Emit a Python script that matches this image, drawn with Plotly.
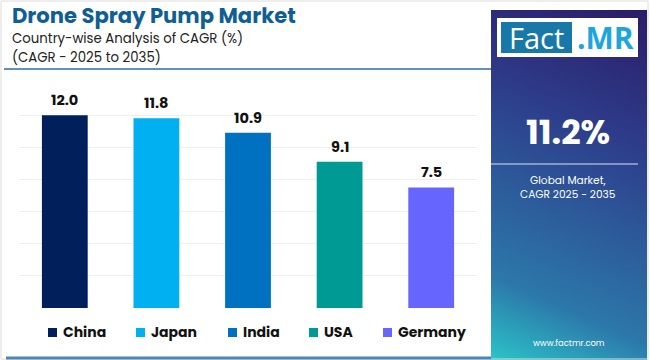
import base64
import plotly.graph_objects as go

# ---------------- data ----------------
countries = ["China", "Japan", "India", "USA", "Germany"]
cagr = [12.0, 11.8, 10.9, 9.1, 7.5]
colors = ["#001f5b", "#00b0f0", "#0070c0", "#009a94", "#6666ff"]
global_cagr = "11.2%"
title = "Drone Spray Pump Market"
subtitle1 = "Country-wise Analysis of CAGR (%)"
subtitle2 = "(CAGR - 2025 to 2035)"
y_ticks = [0, 2, 4, 6, 8, 10, 12, 14]

W, H = 650, 360
FONT = "Poppins, Inter, 'Open Sans', sans-serif"


def px(x):
    return x / W


def py(y):
    return 1 - y / H


fig = go.Figure()
fig.add_trace(go.Bar(
    x=countries, y=cagr, marker=dict(color=colors, line=dict(width=0)),
    showlegend=False, hoverinfo="x+y",
))

annotations = []
shapes = []

# value labels
for c, v in zip(countries, cagr):
    annotations.append(dict(
        x=c, y=v, xref="x", yref="y", text=f"<b>{v:.1f}</b>", showarrow=False,
        yanchor="bottom", yshift=3,
        font=dict(family=FONT, size=14.5, color="#111111"),
    ))

# outer frame
shapes.append(dict(type="rect", xref="paper", yref="paper", x0=px(1), x1=px(648), y0=py(359), y1=py(1),
                   line=dict(color="#dcdcdc", width=1), fillcolor="rgba(0,0,0,0)", layer="below"))
# title underline
shapes.append(dict(type="line", xref="paper", yref="paper", x0=px(4), x1=px(491), y0=py(69), y1=py(69),
                   line=dict(color="#2c6d9c", width=1.5)))
# bottom line
shapes.append(dict(type="line", xref="paper", yref="paper", x0=px(6), x1=px(491), y0=py(358), y1=py(358),
                   line=dict(color="#4a86b6", width=3)))

# titles
annotations += [
    dict(x=px(11), y=py(16), xref="paper", yref="paper", xanchor="left", yanchor="middle", showarrow=False,
         borderpad=0, text=f"<b>{title}</b>", font=dict(family=FONT, size=21.1, color="#0f5e94", weight=800)),
    dict(x=px(11), y=py(38.5), xref="paper", yref="paper", xanchor="left", yanchor="middle", showarrow=False,
         borderpad=0, text=subtitle1, font=dict(family=FONT, size=13.3, color="#222222")),
    dict(x=px(11), y=py(58), xref="paper", yref="paper", xanchor="left", yanchor="middle", showarrow=False,
         borderpad=0, text=subtitle2, font=dict(family=FONT, size=13.3, color="#222222")),
]

# custom legend
sq_x = [48, 136, 228, 309, 383]
for c, col, sx in zip(countries, colors, sq_x):
    shapes.append(dict(type="rect", xref="paper", yref="paper", x0=px(sx), x1=px(sx + 9),
                       y0=py(337), y1=py(328), fillcolor=col, line=dict(width=0)))
    annotations.append(dict(x=px(sx + 13), y=py(332), xref="paper", yref="paper", xanchor="left",
                            yanchor="middle", showarrow=False, text=f"<b>{c}</b>",
                            font=dict(family=FONT, size=14, color="#111111")))

# right panel gradient
pw, ph = 156, 350
svg = (f'<svg xmlns="http://www.w3.org/2000/svg" width="{pw}" height="{ph}" viewBox="0 0 {pw} {ph}" '
       f'preserveAspectRatio="none"><defs><linearGradient id="g" gradientUnits="userSpaceOnUse" '
       f'x1="{pw}" y1="0" x2="0" y2="{ph}">'
       '<stop offset="0" stop-color="#2b1c68"/><stop offset="0.33" stop-color="#2d3c8a"/>'
       '<stop offset="0.8" stop-color="#2c78aa"/><stop offset="1" stop-color="#2bc4c8"/>'
       f'</linearGradient></defs><rect width="{pw}" height="{ph}" fill="url(#g)"/></svg>')
src = "data:image/svg+xml;base64," + base64.b64encode(svg.encode()).decode()
fig.add_layout_image(dict(source=src, xref="paper", yref="paper", x=px(491), y=py(10),
                          sizex=pw / W, sizey=ph / H, sizing="stretch", xanchor="left", yanchor="top",
                          layer="below"))

# logo
shapes.append(dict(type="rect", xref="paper", yref="paper", x0=px(497), x1=px(638), y0=py(57), y1=py(18),
                   fillcolor="white", line=dict(width=0)))
shapes.append(dict(type="rect", xref="paper", yref="paper", x0=px(501), x1=px(572), y0=py(53), y1=py(22),
                   fillcolor="#1878a8", line=dict(width=0)))
annotations += [
    dict(x=px(536.5), y=py(38), xref="paper", yref="paper", xanchor="center", yanchor="middle", showarrow=False,
         text="Fact", font=dict(family="Open Sans, sans-serif", size=29, color="white")),
    dict(x=px(605), y=py(38), xref="paper", yref="paper", xanchor="center", yanchor="middle", showarrow=False,
         text="<b>.MR</b>", font=dict(family="Open Sans, sans-serif", size=30, color="#1ea6dc")),
]

# panel texts
shapes.append(dict(type="line", xref="paper", yref="paper", x0=px(491), x1=px(638), y0=py(164), y1=py(164),
                   line=dict(color="rgba(190,200,230,0.8)", width=1.5)))
annotations += [
    dict(x=px(568), y=py(132), xref="paper", yref="paper", xanchor="center", yanchor="middle", showarrow=False,
         text=f"<b>{global_cagr}</b>", font=dict(family=FONT, size=34, color="white", weight=800)),
    dict(x=px(568), y=py(180), xref="paper", yref="paper", xanchor="center", yanchor="middle", showarrow=False,
         borderpad=0, text="Global Market,", font=dict(family=FONT, size=10.6, color="white")),
    dict(x=px(568), y=py(194.5), xref="paper", yref="paper", xanchor="center", yanchor="middle", showarrow=False,
         borderpad=0, text="CAGR 2025 - 2035", font=dict(family=FONT, size=10.6, color="white")),
    dict(x=px(569), y=py(343), xref="paper", yref="paper", xanchor="center", yanchor="middle", showarrow=False,
         text="www.factmr.com", font=dict(family=FONT, size=8.4, color="white")),
]

fig.update_layout(
    width=W, height=H, margin=dict(l=0, r=0, t=0, b=0),
    paper_bgcolor="white", plot_bgcolor="white",
    bargap=0.5,
    xaxis=dict(domain=[px(19), px(477)], showticklabels=False, showgrid=False, zeroline=False,
               showline=False, ticks=""),
    yaxis=dict(domain=[py(308), py(83)], range=[0, 14], tickvals=y_ticks, showticklabels=False,
               showgrid=True, gridcolor="#efefef", gridwidth=1, zeroline=False, showline=False),
    shapes=shapes, annotations=annotations, showlegend=False,
    font=dict(family=FONT),
)

fig.write_html("out.html", config={"displayModeBar": False},
               post_script="document.body.style.margin='0';document.body.style.padding='0';")
